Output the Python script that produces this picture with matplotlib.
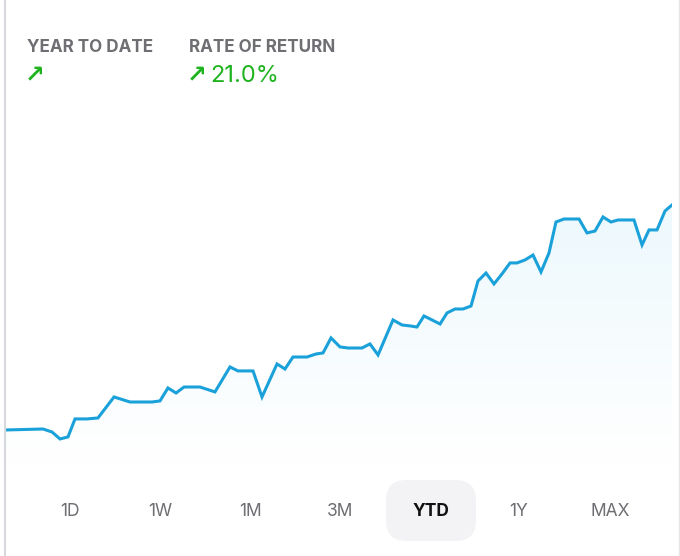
import numpy as np
import matplotlib
matplotlib.use("Agg")
import matplotlib.pyplot as plt
from matplotlib.patches import FancyBboxPatch, Polygon
from matplotlib.lines import Line2D

# ---- data ----
period_pos = [0.0, 5.56, 6.91, 8.11, 9.31, 10.36, 12.16, 13.81, 16.22, 18.62,
              21.92, 23.12, 24.32, 25.53, 26.73, 29.13, 31.38, 33.63, 34.83, 37.09,
              38.44, 40.69, 41.89, 43.09, 45.20, 46.55, 47.60, 48.80, 50.15, 51.35,
              53.45, 54.65, 55.86, 58.11, 59.46, 60.66, 61.71, 62.76, 63.96, 65.17,
              66.22, 67.42, 68.62, 69.82, 70.87, 72.07, 73.27, 74.47, 75.68, 76.73,
              77.93, 79.13, 80.33, 81.53, 82.58, 83.78, 86.04, 87.24, 88.44, 89.64,
              90.84, 91.89, 94.29, 95.50, 96.55, 97.75, 98.95, 100.0]
return_pct = [0.0, 0.09, -0.19, -0.84, -0.65, 1.03, 1.03, 1.12, 3.08, 2.61,
              2.61, 2.71, 3.92, 3.45, 4.01, 4.01, 3.55, 5.88, 5.51, 5.51,
              3.08, 6.16, 5.69, 6.81, 6.81, 7.09, 7.19, 8.59, 7.75, 7.65,
              7.65, 8.03, 7.00, 10.27, 9.80, 9.71, 9.61, 10.64, 10.27, 9.89,
              10.92, 11.29, 11.29, 11.57, 13.91, 14.65, 13.63, 14.56, 15.59, 15.59,
              15.87, 16.33, 14.75, 16.52, 19.41, 19.69, 19.69, 18.39, 18.57, 19.88,
              19.41, 19.60, 19.60, 17.27, 18.67, 18.67, 20.44, 21.00]
header_labels = ["YEAR TO DATE", "RATE OF RETURN"]
rate_of_return = "21.0%"
range_labels = ["1D", "1W", "1M", "3M", "YTD", "1Y", "MAX"]
selected_range = "YTD"

W, H = 680, 556
fig = plt.figure(figsize=(W / 100, H / 100), dpi=100)
fig.patch.set_facecolor("white")

FONT = ["Inter", "DejaVu Sans"]
GRAY = "#6e6e73"
GREEN = "#1fb31f"
LINE = "#1aa1da"

# chart axes
ax = fig.add_axes([6 / W, 1 - 465 / H, 666 / W, 345 / H])
ax.set_xlim(0, 100)
ax.set_ylim(-3.27, 28.93)
ax.axis("off")

x = np.array(period_pos)
y = np.array(return_pct)
ymin = ax.get_ylim()[0]
verts = [(x[0], ymin)] + list(zip(x, y)) + [(x[-1], ymin)]
poly = Polygon(verts, closed=True, facecolor="none", edgecolor="none")
ax.add_patch(poly)
grad = np.linspace(0, 1, 256)
cols = np.zeros((256, 1, 4))
cols[:, 0, :3] = np.array([0.90, 0.965, 0.99])
cols[:, 0, 3] = 0.7 * grad
im = ax.imshow(cols, extent=[0, 100, ymin, max(return_pct)], origin="lower",
               aspect="auto", zorder=1, interpolation="bilinear")
im.set_clip_path(poly)
ax.plot(x, y, color=LINE, lw=2.2, solid_joinstyle="miter", zorder=3)

# borders
fig.add_artist(Line2D([5 / W, 5 / W], [0, 1], color="#d7d7de", lw=1.5))
fig.add_artist(Line2D([678.5 / W, 678.5 / W], [0, 1], color="#e6e6ea", lw=1.0))

# header
fig.text(27 / W, 1 - 47 / H, header_labels[0], family=FONT, fontsize=12.3,
         fontweight="bold", color=GRAY, va="center", ha="left")
fig.text(189 / W, 1 - 47 / H, header_labels[1], family=FONT, fontsize=12.3,
         fontweight="bold", color=GRAY, va="center", ha="left")
fig.text(25 / W, 1 - 75 / H, "\u2197", family=["DejaVu Sans"], fontsize=17,
         fontweight="bold", color=GREEN, va="center", ha="left")
fig.text(187 / W, 1 - 75 / H, "\u2197", family=["DejaVu Sans"], fontsize=17,
         fontweight="bold", color=GREEN, va="center", ha="left")
fig.text(210 / W, 1 - 76 / H, rate_of_return, family=FONT, fontsize=17,
         color=GREEN, va="center", ha="left")

# range selector
centers = [70, 160, 250, 340, 431, 519, 610]
for lab, cx in zip(range_labels, centers):
    if lab == selected_range:
        box = FancyBboxPatch(((cx - 45) / W, 1 - 541 / H), 90 / W, 61 / H,
                             boxstyle="round,pad=0,rounding_size=0.03",
                             transform=fig.transFigure, facecolor="#f3f3f5",
                             edgecolor="none", mutation_aspect=W / H)
        fig.add_artist(box)
        fig.text(cx / W, 1 - 511 / H, lab, family=FONT, fontsize=12.5,
                 fontweight="bold", color="#111111", ha="center", va="center")
    else:
        fig.text(cx / W, 1 - 511 / H, lab, family=FONT, fontsize=12.5,
                 color=GRAY, ha="center", va="center")

fig.savefig("out.png", dpi=100, facecolor="white")
